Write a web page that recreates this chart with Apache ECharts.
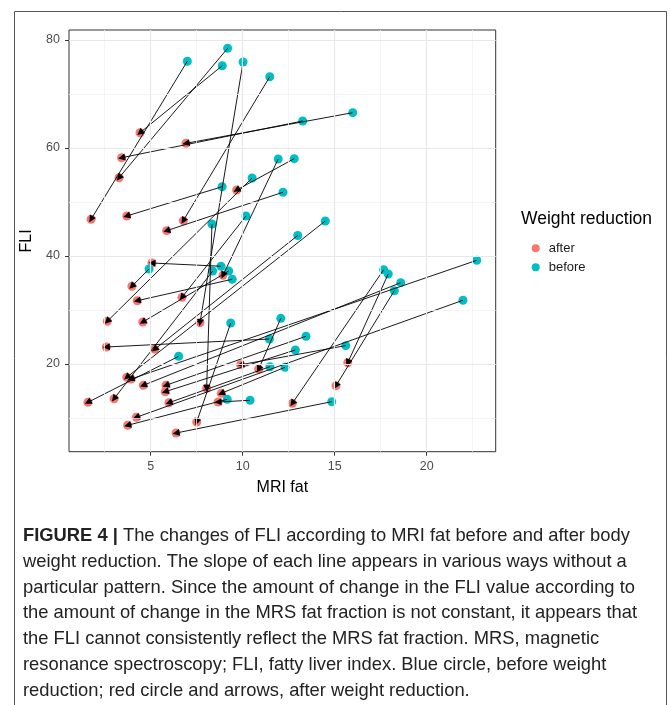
<!DOCTYPE html>
<html><head><meta charset="utf-8">
<script src="https://cdn.jsdelivr.net/npm/echarts@6/dist/echarts.min.js"></script>
<style>html,body{margin:0;padding:0;background:#fff}#c{width:670px;height:705px}</style>
</head><body><div id="c"></div>
<script>
// before (cyan) -> after (red) pairs
const beforeX = [6.99,9.18,8.89,10.02,11.47,13.26,11.93,12.80,10.51,8.88,12.19,10.18,8.33,12.99,15.98,14.49,4.91,8.82,8.37,9.24,9.43,12.07,9.35,11.45,13.44,12.86,6.52,11.48,12.30,9.16,10.40,17.66,17.91,22.72,18.59,18.24,21.97,15.60,14.84];
const beforeY = [76.06,78.46,75.24,75.93,73.20,65.00,57.96,58.02,54.44,52.83,51.80,47.41,45.93,43.80,66.54,46.48,37.60,38.10,37.22,37.22,35.69,28.46,27.59,24.63,25.13,22.59,21.43,19.50,19.39,13.46,13.28,37.46,36.67,39.20,35.06,33.57,31.80,23.40,13.02];
const afterX = [1.76,3.28,4.42,7.68,6.77,3.42,8.93,9.67,2.64,3.70,5.87,6.70,8.04,5.22,6.92,3.70,3.98,5.07,3.01,4.57,4.27,10.87,7.50,2.59,5.83,5.79,1.59,5.99,8.84,3.75,8.66,12.70,15.71,3.93,4.60,15.07,4.22,9.89,6.38];
const afterY = [46.80,54.50,62.83,27.65,46.54,58.20,36.43,52.22,27.91,47.41,44.69,32.35,15.50,22.72,60.87,17.54,34.39,38.70,13.57,27.78,31.72,19.07,9.26,23.15,16.06,14.87,12.91,12.83,14.57,8.65,12.96,12.72,20.24,17.22,16.06,15.98,10.13,19.87,7.22];
const xTicks = [5,10,15,20];
const yTicks = [20,40,60,80];
const xMinor = [2.5,7.5,12.5,17.5,22.5];
const yMinor = [10,30,50,70];
const groupNames = ['after','before'];
const legendTitle = 'Weight reduction';
const xTitle = 'MRI fat';
const yTitle = 'FLI';
const captionBold = 'FIGURE 4 |';
const captionLines = [
  ' The changes of FLI according to MRI fat before and after body',
  'weight reduction. The slope of each line appears in various ways without a',
  'particular pattern. Since the amount of change in the FLI value according to',
  'the amount of change in the MRS fat fraction is not constant, it appears that',
  'the FLI cannot consistently reflect the MRS fat fraction. MRS, magnetic',
  'resonance spectroscopy; FLI, fatty liver index. Blue circle, before weight',
  'reduction; red circle and arrows, after weight reduction.'
];

const chart = echarts.init(document.getElementById('c'), null, {renderer:'canvas'});
const X0 = 0.56, X1 = 23.75, Y0 = 3.76, Y1 = 81.85;
const AF = 'Liberation Sans, Arial, sans-serif';

const afterPts = afterX.map((x,i)=>[x, afterY[i]]);
const beforePts = beforeX.map((x,i)=>[x, beforeY[i]]);
const segs = beforeX.map((x,i)=>({coords:[[x, beforeY[i]],[afterX[i], afterY[i]]]}));

// caption scaling
const capFont = '"Liberation Sans Narrow","Arial Narrow","Liberation Sans",Arial,sans-serif';
const capSize = 18.5;
const ctx = document.createElement('canvas').getContext('2d');
ctx.font = capSize + 'px ' + capFont;
const refW = ctx.measureText(captionLines[3]).width;
const capScale = 614 / refW;
const capY0 = 536, capDy = 25.8;
const capGraphics = captionLines.map((t,i)=>({
  type:'text', x:23, y: capY0 + i*capDy, scaleX: capScale, silent:true,
  style: i===0 ? {
    text: '{b|' + captionBold + '}' + t,
    fontFamily: capFont, fontSize: capSize, fill:'#222', verticalAlign:'middle',
    rich: { b: {fontWeight:'bold', fontFamily: capFont, fontSize: capSize, fill:'#222'} }
  } : {text:t, fontFamily: capFont, fontSize: capSize, fill:'#222', verticalAlign:'middle'}
}));

const gridLines = [
  ...xMinor.map(v=>({xAxis:v, lineStyle:{color:'#f2f2f2', width:0.8, type:'solid'}})),
  ...yMinor.map(v=>({yAxis:v, lineStyle:{color:'#f2f2f2', width:0.8, type:'solid'}})),
  ...xTicks.map(v=>({xAxis:v, lineStyle:{color:'#e8e8e8', width:1.2, type:'solid'}})),
  ...yTicks.map(v=>({yAxis:v, lineStyle:{color:'#e8e8e8', width:1.2, type:'solid'}}))
];

chart.setOption({
  animation:false,
  backgroundColor:'#fff',
  grid:{left:69, top:30, width:426.7, height:421.7, show:true, borderColor:'#333', borderWidth:1, backgroundColor:'#fff', z:0},
  xAxis:{type:'value', min:X0, max:X1, name:xTitle, nameLocation:'middle', nameGap:28,
    nameTextStyle:{fontSize:16, color:'#000', fontFamily:AF},
    axisLine:{show:false}, splitLine:{show:false},
    axisTick:{show:true, customValues:xTicks, length:4, lineStyle:{color:'#333'}},
    axisLabel:{customValues:xTicks, color:'#4d4d4d', fontSize:12.5, margin:8, fontFamily:AF}},
  yAxis:{type:'value', min:Y0, max:Y1, name:yTitle, nameLocation:'middle', nameGap:34, nameRotate:90,
    nameTextStyle:{fontSize:16, color:'#000', fontFamily:AF},
    axisLine:{show:false}, splitLine:{show:false},
    axisTick:{show:true, customValues:yTicks, length:4, lineStyle:{color:'#333'}},
    axisLabel:{customValues:yTicks, color:'#4d4d4d', fontSize:12.5, margin:9, fontFamily:AF}},
  legend:{data:groupNames.map(n=>({name:n, icon:'circle'})), orient:'vertical', left:526.7, top:236.3,
    itemWidth:8, itemHeight:8, itemGap:5, selectedMode:false,
    textStyle:{fontSize:13, lineHeight:14, color:'#1a1a1a', fontFamily:AF, padding:[0,0,0,4]}},
  graphic:[
    {type:'rect', shape:{x:14.5, y:11.5, width:652, height:700}, style:{fill:'none', stroke:'#555', lineWidth:1}, silent:true},
    {type:'text', x:521, y:219, silent:true, style:{text:legendTitle, fontSize:17.5, fontFamily:AF, fill:'#000', verticalAlign:'middle'}},
    ...capGraphics
  ],
  series:[
    {type:'line', data:[[X0,Y0]], showSymbol:false, silent:true, z:1, lineStyle:{opacity:0},
      markLine:{silent:true, symbol:['none','none'], label:{show:false}, animation:false, data:gridLines}},
    {name:groupNames[0], type:'scatter', data:afterPts, symbolSize:9, z:3, itemStyle:{color:'#F8766D', opacity:1}},
    {name:groupNames[1], type:'scatter', data:beforePts, symbolSize:9, z:3, itemStyle:{color:'#00BFC4', opacity:1}},
    {type:'lines', coordinateSystem:'cartesian2d', data:segs, z:4, silent:true,
      symbol:['none','triangle'], symbolSize:[5,7],
      lineStyle:{color:'#000', width:0.9, opacity:1, curveness:0}, itemStyle:{color:'#000'}}
  ]
});
</script></body></html>
